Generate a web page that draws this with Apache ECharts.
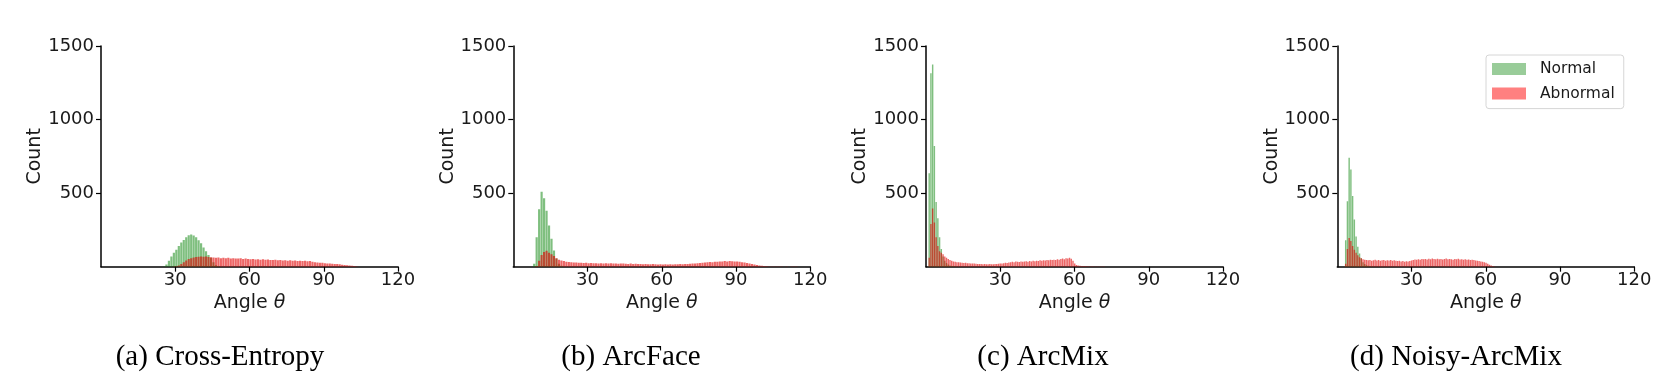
<!DOCTYPE html>
<html>
<head>
<meta charset="utf-8">
<script src="https://cdn.jsdelivr.net/npm/echarts@6/dist/echarts.min.js"></script>
<style>
html,body{margin:0;padding:0;background:#fff;}
#chart{width:1662px;height:386px;}
</style>
</head>
<body>
<div id="chart"></div>
<script>
// ---------- data ----------
const panelTitles = ['(a) Cross-Entropy', '(b) ArcFace', '(c) ArcMix', '(d) Noisy-ArcMix'];
const seriesNames = ['Normal', 'Abnormal'];
const xTicks = [30, 60, 90, 120];
const yTicks = [500, 1000, 1500];
const xAxisName = 'Angle {it|θ}';
const yAxisName = 'Count';

// histogram bin widths (degrees) and first bin edge for each panel
const binWidths = [1, 1, 0.7, 0.7];
const normalStarts = [25, 8, 1.0, 3.1];
const abnormalStarts = [29, 9, 1.0, 3.1];

// (a) Cross-Entropy
const normalCE = [3, 15, 40, 70, 95, 115, 140, 165, 182, 200, 214, 218, 212, 200, 180, 160, 130, 105, 80, 60, 30, 10, 3];
const abnormalCE = [2, 3, 8, 18, 30, 42, 52, 58, 62, 66, 68, 70, 68, 70, 66, 64, 62, 60, 63, 58,
  60, 57, 60, 55, 58, 56, 55, 57, 52, 55, 53, 50, 52, 49, 51, 48, 50, 47, 49, 46,
  45, 47, 44, 46, 42, 44, 41, 43, 40, 42, 39, 41, 38, 40, 37, 38, 33, 30, 28, 26,
  26, 24, 22, 21, 20, 19, 18, 16, 14, 12, 10, 8, 6, 4, 2];

// (b) ArcFace
const normalAF = [20, 200, 390, 510, 465, 380, 280, 190, 110, 55, 20, 6];
const abnormalAF = [5, 40, 80, 100, 108, 95, 85, 72, 58, 48, 42, 38, 34, 32, 30, 28, 29, 27, 26, 25,
  27, 24, 25, 23, 24, 22, 24, 21, 23, 22, 24, 21, 22, 20, 22, 21, 20, 19, 21, 18,
  20, 18, 19, 17, 18, 17, 16, 18, 16, 15, 17, 15, 16, 15, 16, 15, 17, 16, 18, 17,
  19, 18, 20, 21, 22, 24, 25, 27, 28, 30, 32, 31, 34, 33, 36, 35, 38, 36, 39, 37,
  36, 35, 33, 30, 28, 25, 22, 18, 15, 12, 9, 6, 4, 3, 2, 2, 1, 1, 1, 1,
  0, 1, 0, 1, 1, 1];

// (c) ArcMix
const normalAM = [635, 1315, 1375, 820, 440, 330, 200, 120, 70, 40, 25, 15, 8, 5, 3, 2];
const abnormalAM = [60, 290, 395, 300, 200, 140, 105, 95, 85, 70, 60, 52, 45, 40,
  36, 34, 30, 31, 28, 27, 25, 26, 23, 24, 22, 21, 22, 20, 19,
  18, 19, 17, 18, 16, 17, 18, 16, 17, 19, 18, 20, 21, 22,
  24, 26, 25, 28, 30, 33, 31, 35, 34, 32, 36, 33, 35, 37,
  34, 38, 36, 40, 37, 41, 39, 43, 40, 44, 42, 46, 44, 47,
  45, 48, 46, 50, 48, 52, 55, 51, 58, 56, 60, 54,
  40, 22, 12, 8, 6, 5, 4, 4, 3, 3, 2, 3, 2, 2, 1, 2, 1, 1, 1];

// (d) Noisy-ArcMix
const normalNAM = [180, 445, 740, 660, 480, 320, 205, 135, 90, 57, 30, 18, 10, 6, 3, 2];
const abnormalNAM = [20, 120, 195, 175, 140, 115, 95, 78, 65, 57, 50, 47, 45,
  43, 46, 41, 44, 47, 42, 45, 40, 43, 46, 41, 44, 42, 45, 40, 43, 41, 38, 40,
  36, 38, 34, 37, 35, 39, 42,
  46, 49, 47, 51, 48, 52, 50, 53, 49, 54, 51, 55, 52, 50, 54, 51, 53, 49, 52, 55,
  50, 53, 51, 48, 52, 50, 54, 49, 51, 48, 50, 47, 49, 46, 48, 45,
  42, 40, 38, 36, 33, 30, 27,
  20, 14, 8, 4, 2];

const normalCounts = [normalCE, normalAF, normalAM, normalNAM];
const abnormalCounts = [abnormalCE, abnormalAF, abnormalAM, abnormalNAM];

// ---------- layout & style ----------
const gridLefts = [101, 513.3, 926, 1337.3];
const captionCenters = [220, 631, 1043, 1456];
const barColors = ['rgba(0,128,0,0.5)', 'rgba(225,0,0,0.6)'];
const legendColors = ['#99cc99', '#ff8080'];
const textColor = '#1a1a1a';
const sansFont = 'DejaVu Sans';

function toBins(counts, start, w) {
  return counts.map((c, i) => [start + i * w, start + (i + 1) * w, c]);
}

function renderBar(params, api) {
  const x0 = api.value(0), x1 = api.value(1), y = api.value(2);
  const p0 = api.coord([x0, y]);
  const p1 = api.coord([x1, 0]);
  const w = Math.max(p1[0] - p0[0] - 0.3, 0.5);
  return {
    type: 'rect',
    shape: { x: p0[0], y: p0[1], width: w, height: p1[1] - p0[1] },
    style: api.style()
  };
}

const plain = v => String(v);

const grid = [], xAxis = [], yAxis = [], series = [];
for (let p = 0; p < 4; p++) {
  grid.push({ left: gridLefts[p], top: 46, width: 297, height: 220.7 });
  xAxis.push({
    gridIndex: p, type: 'value', min: 0, max: 120, interval: 30,
    axisLine: { show: true, onZero: false, lineStyle: { color: '#000', width: 1.5 } },
    axisTick: { show: true, length: 5, lineStyle: { color: '#000', width: 1.2 }, customValues: xTicks },
    axisLabel: { customValues: xTicks, formatter: plain, fontSize: 18, fontFamily: sansFont, color: textColor, margin: 5 },
    splitLine: { show: false },
    name: xAxisName, nameLocation: 'middle', nameGap: 27, nameMoveOverlap: false,
    nameTextStyle: {
      fontSize: 19, fontFamily: sansFont, color: textColor,
      rich: { it: { fontStyle: 'italic', fontSize: 19, fontFamily: sansFont, color: textColor } }
    }
  });
  yAxis.push({
    gridIndex: p, type: 'value', min: 0, max: 1500, interval: 500,
    axisLine: { show: true, onZero: false, lineStyle: { color: '#000', width: 1.5 } },
    axisTick: { show: true, length: 5, lineStyle: { color: '#000', width: 1.2 }, customValues: yTicks },
    axisLabel: { customValues: yTicks, formatter: plain, fontSize: 18, fontFamily: sansFont, color: textColor, margin: 7 },
    splitLine: { show: false },
    name: yAxisName, nameLocation: 'middle', nameGap: 56, nameMoveOverlap: false,
    nameTextStyle: { fontSize: 19, fontFamily: sansFont, color: textColor }
  });
  const sets = [toBins(normalCounts[p], normalStarts[p], binWidths[p]),
                toBins(abnormalCounts[p], abnormalStarts[p], binWidths[p])];
  for (let s = 0; s < 2; s++) {
    series.push({
      type: 'custom', name: seriesNames[s],
      xAxisIndex: p, yAxisIndex: p,
      renderItem: renderBar,
      encode: { x: [0, 1], y: 2 },
      itemStyle: { color: barColors[s] },
      clip: true,
      silent: true,
      data: sets[s]
    });
  }
}

const option = {
  backgroundColor: '#fff',
  animation: false,
  grid, xAxis, yAxis, series,
  legend: {
    left: 1486, top: 55, orient: 'vertical',
    icon: 'rect', itemWidth: 34, itemHeight: 12, itemGap: 8.6,
    padding: [6, 9, 7, 6],
    borderColor: '#d6d6d6', borderWidth: 1, borderRadius: 3,
    backgroundColor: 'rgba(255,255,255,0.8)',
    textStyle: { fontSize: 15.5, fontFamily: sansFont, color: textColor, lineHeight: 16, padding: [0, 0, 0, 9] },
    data: seriesNames.map((n, i) => ({ name: n, itemStyle: { color: legendColors[i] } }))
  },
  graphic: panelTitles.map((t, i) => ({
    type: 'text', x: captionCenters[i], y: 357,
    style: { text: t, font: '29px "Liberation Serif"', fill: '#000', textAlign: 'center', textVerticalAlign: 'middle' }
  }))
};

const chart = echarts.init(document.getElementById('chart'), null, { renderer: 'canvas' });
chart.setOption(option);
</script>
</body>
</html>
